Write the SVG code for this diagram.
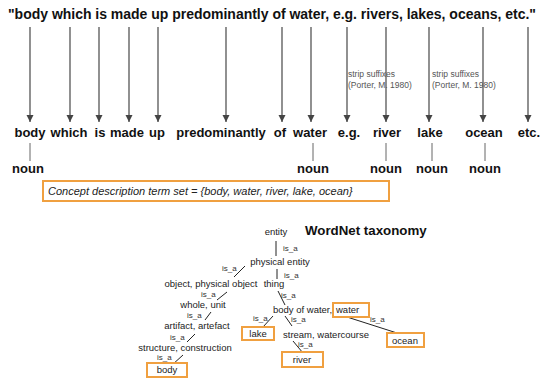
<svg xmlns="http://www.w3.org/2000/svg" width="547" height="378" viewBox="0 0 547 378">
<style>
.big{font-family:"Liberation Sans",Arial,sans-serif;font-weight:bold;font-size:13px;fill:#111;text-anchor:middle}
.note{font-family:"Liberation Sans",Arial,sans-serif;font-size:8.5px;fill:#555}
.t{font-family:"Liberation Sans",Arial,sans-serif;font-size:9.5px;fill:#222}
.m{text-anchor:middle}
.isa{font-family:"Liberation Sans",Arial,sans-serif;font-size:8px;fill:#333}
.arr{stroke:#555;stroke-width:1.3;fill:none;marker-end:url(#ah)}
.ln{stroke:#222;stroke-width:1;fill:none}
.gl{stroke:#666;stroke-width:1;fill:none}
.box{fill:#fff;stroke:#f0a040;stroke-width:2}
</style>
<defs>
<marker id="ah" viewBox="0 0 10 10" refX="10" refY="5" markerWidth="5.5" markerHeight="5.5" orient="auto" markerUnits="strokeWidth">
<path d="M0,0 L10,5 L0,10 z" fill="#444"/>
</marker>
</defs>
<rect width="547" height="378" fill="#fff"/>
<text x="8" y="19" font-family="Liberation Sans, Arial, sans-serif" font-weight="bold" font-size="14" fill="#111" textLength="528" lengthAdjust="spacing">"body which is made up predominantly of water, e.g. rivers, lakes, oceans, etc."</text>

<g id="connectors">
<line class="arr" x1="30" y1="27" x2="30" y2="122"/>
<line class="arr" x1="70" y1="27" x2="70" y2="122"/>
<line class="arr" x1="99" y1="27" x2="99" y2="122"/>
<line class="arr" x1="129" y1="27" x2="129" y2="122"/>
<line class="arr" x1="158" y1="27" x2="158" y2="122"/>
<line class="arr" x1="226" y1="27" x2="226" y2="122"/>
<line class="arr" x1="282" y1="27" x2="282" y2="122"/>
<line class="arr" x1="311" y1="27" x2="311" y2="122"/>
<line class="arr" x1="347" y1="27" x2="347" y2="122"/>
<line class="arr" x1="386" y1="27" x2="386" y2="122"/>
<line class="arr" x1="429" y1="27" x2="429" y2="122"/>
<line class="arr" x1="483" y1="27" x2="483" y2="122"/>
<line class="arr" x1="528" y1="27" x2="528" y2="122"/>
<line class="gl" x1="30" y1="143" x2="30" y2="161"/>
<line class="gl" x1="313" y1="143" x2="313" y2="161"/>
<line class="gl" x1="386" y1="143" x2="386" y2="161"/>
<line class="gl" x1="432" y1="143" x2="432" y2="161"/>
<line class="gl" x1="485" y1="143" x2="485" y2="161"/>
<!-- tree -->
<line class="ln" x1="276" y1="241" x2="276" y2="256"/>
<line class="ln" x1="277" y1="269" x2="277" y2="279"/>
<line class="ln" x1="245" y1="266" x2="234" y2="277"/>
<line class="ln" x1="227" y1="292" x2="217" y2="300"/>
<line class="ln" x1="278" y1="291" x2="285" y2="305"/>
<line class="ln" x1="211" y1="312" x2="205" y2="320"/>
<line class="ln" x1="195" y1="334" x2="187" y2="342"/>
<line class="ln" x1="183" y1="355" x2="172" y2="365"/>
<line class="ln" x1="273" y1="316" x2="263" y2="327"/>
<line class="ln" x1="285" y1="316" x2="292" y2="326"/>
<line class="ln" x1="293" y1="341" x2="303" y2="353"/>
<line class="ln" x1="347" y1="317" x2="397" y2="333"/>
</g>

<g id="strip1"><text class="note" x="348" y="77">strip suffixes</text><text class="note" x="348" y="88">(Porter, M. 1980)</text></g>
<g id="strip2"><text class="note" x="432" y="77">strip suffixes</text><text class="note" x="432" y="88">(Porter, M. 1980)</text></g>

<g id="words">
<text class="big" x="30" y="137">body</text>
<text class="big" x="69" y="137">which</text>
<text class="big" x="100" y="137">is</text>
<text class="big" x="127" y="137">made</text>
<text class="big" x="157" y="137">up</text>
<text class="big" x="221" y="137">predominantly</text>
<text class="big" x="280" y="137">of</text>
<text class="big" x="310" y="137">water</text>
<text class="big" x="349" y="137">e.g.</text>
<text class="big" x="387" y="137">river</text>
<text class="big" x="430" y="137">lake</text>
<text class="big" x="484" y="137">ocean</text>
<text class="big" x="529" y="137">etc.</text>
</g>
<g id="nouns">
<text class="big" x="28" y="173">noun</text>
<text class="big" x="313" y="173">noun</text>
<text class="big" x="386" y="173">noun</text>
<text class="big" x="432" y="173">noun</text>
<text class="big" x="485" y="173">noun</text>
</g>
<g id="termset">
<rect class="box" x="43" y="181" width="346" height="20" stroke-width="1.5"/>
<text x="48" y="195" font-family="Liberation Sans, Arial, sans-serif" font-style="italic" font-size="11" fill="#222">Concept description term set = {body, water, river, lake, ocean}</text>
</g>

<text x="305" y="235" font-family="Liberation Sans, Arial, sans-serif" font-weight="bold" font-size="13.3" fill="#111">WordNet taxonomy</text>

<g id="entity"><text class="t m" x="276" y="235">entity</text></g>
<text class="isa" x="283" y="251">is_a</text>
<g id="physical-entity"><text class="t m" x="280" y="265">physical entity</text></g>
<text class="isa" x="284" y="278">is_a</text>
<text class="isa" x="222" y="271">is_a</text>
<g id="object"><text class="t m" x="211" y="287">object, physical object</text></g>
<g id="thing"><text class="t m" x="274" y="287">thing</text></g>
<text class="isa" x="201" y="297">is_a</text>
<text class="isa" x="281" y="298">is_a</text>
<g id="whole"><text class="t m" x="203" y="308">whole, unit</text></g>
<text class="isa" x="187" y="318">is_a</text>
<g id="artifact"><text class="t m" x="197" y="329">artifact, artefact</text></g>
<text class="isa" x="170" y="340">is_a</text>
<g id="structure"><text class="t m" x="185" y="351">structure, construction</text></g>
<text class="isa" x="157" y="360">is_a</text>
<g id="body"><rect class="box" x="147" y="363" width="40" height="14"/><text class="t m" x="167" y="373">body</text></g>
<g id="body-of-water"><text class="t" x="273" y="313">body of water,</text><rect class="box" x="333" y="303" width="36" height="14"/><text class="t" x="336" y="313">water</text></g>
<text class="isa" x="253" y="321">is_a</text>
<text class="isa" x="291" y="322">is_a</text>
<text class="isa" x="370" y="322">is_a</text>
<g id="lake"><rect class="box" x="242" y="327" width="32" height="13"/><text class="t m" x="258" y="337">lake</text></g>
<g id="stream"><text class="t" x="283" y="338">stream, watercourse</text></g>
<text class="isa" x="298" y="347">is_a</text>
<g id="river"><rect class="box" x="282" y="352" width="41" height="15"/><text class="t m" x="302" y="363">river</text></g>
<g id="ocean"><rect class="box" x="387" y="333" width="37" height="14"/><text class="t m" x="405" y="344">ocean</text></g>
</svg>
